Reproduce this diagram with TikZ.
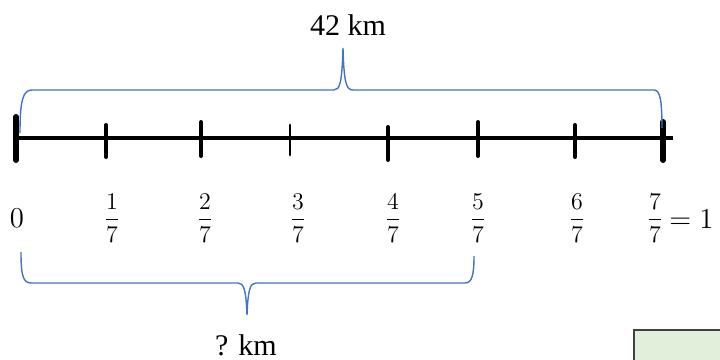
\documentclass[tikz,border=0pt]{standalone}
\usepackage{amsmath}
\usepackage{fontspec}
\setmainfont{Liberation Serif}
\usepackage{xcolor}
\usetikzlibrary{positioning}

\definecolor{braceblue}{HTML}{4472C4}
\definecolor{boxgreen}{HTML}{E2EFDA}

\tikzset{
  axisline/.style={line width=2pt},
  tickmark/.style={line width=2pt, line cap=round},
  bracepath/.style={draw=braceblue, line width=0.7pt},
  lbl/.style={font=\fontsize{15}{18}\selectfont, inner sep=0pt},
  fraclbl/.style={font=\fontsize{11.5}{14}\selectfont, inner sep=0pt}
}

\begin{document}
\begin{tikzpicture}[x=0.5pt,y=-0.5pt]
  \clip (0,0) rectangle (720,360);

  % number line
  \draw[axisline] (16,138) -- (673,138);
  \foreach \k/\x/\a/\b/\w in {0/16/117/160/3pt, 1/106/125/157/2pt, 2/201/122/156/2pt,
      3/290/125/155/1.4pt, 4/388/127/160/2pt, 5/478/122/156/2pt, 6/575/125/157/2pt,
      7/663/122/160/3pt}{
    \coordinate (t\k) at (\x,138);
    \draw[tickmark, line width=\w] (\x,\a) -- (\x,\b);
  }

  % labels under the ticks
  \node[lbl] (f0) at (17,218) {$0$};
  \foreach \k/\x in {1/112, 2/205, 3/298, 4/393, 5/478, 6/577, 7/655}
    \node[fraclbl] (f\k) at (\x,218) {$\dfrac{\k}{7}$};
  \node[lbl, anchor=west] (one) at (669,219) {$=1$};

  % whole distance
  \draw[bracepath] (20,133) .. controls (20,100) and (23,90) .. (32,90)
    -- (334,90) .. controls (340,90) and (342,82) .. (343,48)
    .. controls (344,82) and (346,90) .. (353,90)
    -- (654,90) .. controls (660,90) and (662,100) .. (662,128);
  \node[lbl] (whole) at (348,25) {42 km};

  % part asked for
  \draw[bracepath] (21,252) .. controls (21,275) and (23,283) .. (31,283)
    -- (238,283) .. controls (244,283) and (246,290) .. (247,315)
    .. controls (248,290) and (250,283) .. (256,283)
    -- (465,283) .. controls (472,283) and (474,275) .. (474,256);
  \node[lbl] (part) at (246,345) {? km};

  % box cut off at the corner
  \draw[draw=black!75, fill=boxgreen, line width=1pt] (634,330) rectangle (730,370);
\end{tikzpicture}
\end{document}
